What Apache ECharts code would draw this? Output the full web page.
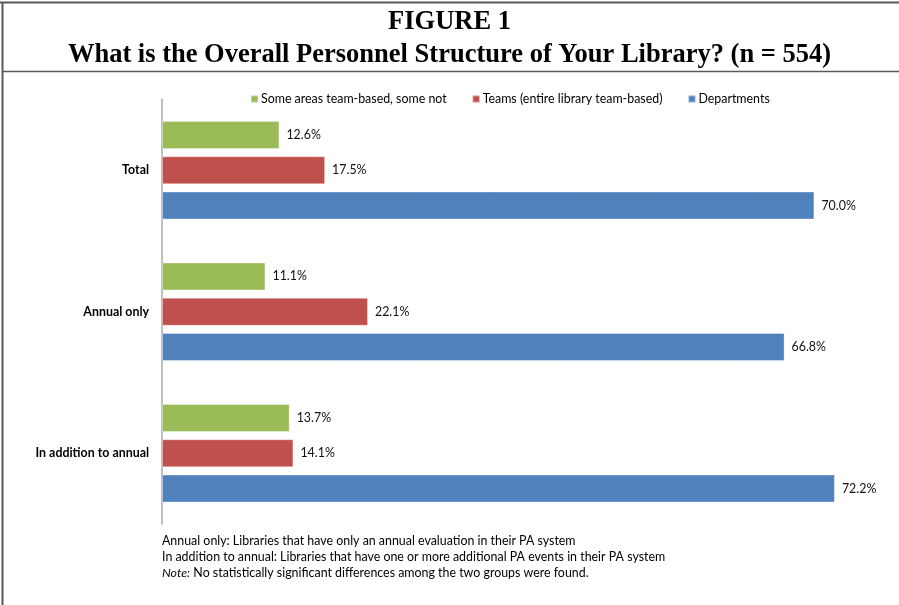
<!DOCTYPE html>
<html>
<head>
<meta charset="utf-8">
<script src="https://cdn.jsdelivr.net/npm/echarts@6/dist/echarts.min.js"></script>
<style>
  html, body { margin: 0; padding: 0; background: #fff; }
  #chart { width: 899px; height: 605px; }
</style>
</head>
<body>
<div id="chart"></div>
<script>
// Survey groups and the share of libraries per personnel structure (%)
const categories = ['Total', 'Annual only', 'In addition to annual'];
const seriesNames = ['Some areas team-based, some not', 'Teams (entire library team-based)', 'Departments'];
const someAreas = [12.6, 11.1, 13.7];
const teams = [17.5, 22.1, 14.1];
const departments = [70.0, 66.8, 72.2];
const seriesColors = ['#9BBB59', '#C0504D', '#4F81BD'];
const notes = [
  '{n|Annual only: Libraries that have only an annual evaluation in their PA system}',
  '{n|In addition to annual: Libraries that have one or more additional PA events in their PA system}',
  '{i|Note:}{n| No statistically significant differences among the two groups were found.}'
];

const seriesValues = [someAreas, teams, departments];
const bodyFont = 'Lato, "Open Sans", sans-serif';
const titleFont = '"Liberation Serif", serif';

const chart = echarts.init(document.getElementById('chart'), null, { renderer: 'canvas' });

chart.setOption({
  backgroundColor: '#fff',
  animation: false,
  title: [
    {
      text: 'FIGURE 1',
      left: 'center',
      top: 4,
      textStyle: { fontFamily: titleFont, fontWeight: 'bold', fontSize: 26.5, color: '#000' }
    },
    {
      text: 'What is the Overall Personnel Structure of Your Library? (n = 554)',
      left: 'center',
      top: 37,
      textStyle: { fontFamily: titleFont, fontWeight: 'bold', fontSize: 26.5, color: '#000' }
    }
  ],
  legend: {
    data: seriesNames,
    left: 250,
    top: 93,
    padding: 0,
    icon: 'rect',
    itemWidth: 7,
    itemHeight: 7,
    itemGap: 25,
    textStyle: { fontFamily: bodyFont, fontSize: 12.4, color: '#000', padding: [0, 0, 0, -2] }
  },
  grid: { left: 162, top: 99.5, height: 424.5, right: 38, containLabel: false },
  xAxis: {
    type: 'value',
    min: 0,
    max: 75,
    show: false
  },
  yAxis: {
    type: 'category',
    inverse: true,
    data: categories,
    axisLine: { show: true, lineStyle: { color: '#BFBFBF', width: 2 } },
    axisTick: { show: false },
    splitLine: { show: false },
    axisLabel: { fontFamily: bodyFont, fontSize: 12.4, fontWeight: 'bold', color: '#000', margin: 13 }
  },
  series: seriesNames.map((name, i) => ({
    name: name,
    type: 'bar',
    data: seriesValues[i],
    barWidth: 28,
    barGap: '26%',
    itemStyle: { color: seriesColors[i], borderColor: 'rgba(255,255,255,0.35)', borderWidth: 1 },
    label: {
      show: true,
      position: 'right',
      distance: 7,
      fontFamily: bodyFont,
      fontSize: 12.4,
      color: '#111',
      formatter: p => p.value.toFixed(1) + '%'
    }
  })),
  graphic: [
    // frame: top rule, left rule and the rule under the heading
    { type: 'line', shape: { x1: 0, y1: 2.5, x2: 899, y2: 2.5 }, style: { stroke: '#595959', lineWidth: 2 } },
    { type: 'line', shape: { x1: 2.5, y1: 2, x2: 2.5, y2: 605 }, style: { stroke: '#595959', lineWidth: 2 } },
    { type: 'line', shape: { x1: 2, y1: 71.5, x2: 899, y2: 71.5 }, style: { stroke: '#595959', lineWidth: 1.5 } },
    ...notes.map((t, i) => ({
      type: 'text',
      x: 162,
      y: 541 + i * 16,
      style: {
        text: t,
        fontFamily: bodyFont,
        fontSize: 12.4,
        fill: '#000',
        verticalAlign: 'middle',
        rich: {
          n: { fontFamily: bodyFont, fontSize: 12.4, fill: '#000' },
          i: { fontStyle: 'italic', fontFamily: bodyFont, fontSize: 12.4, fill: '#000' }
        }
      }
    }))
  ]
});
</script>
</body>
</html>
